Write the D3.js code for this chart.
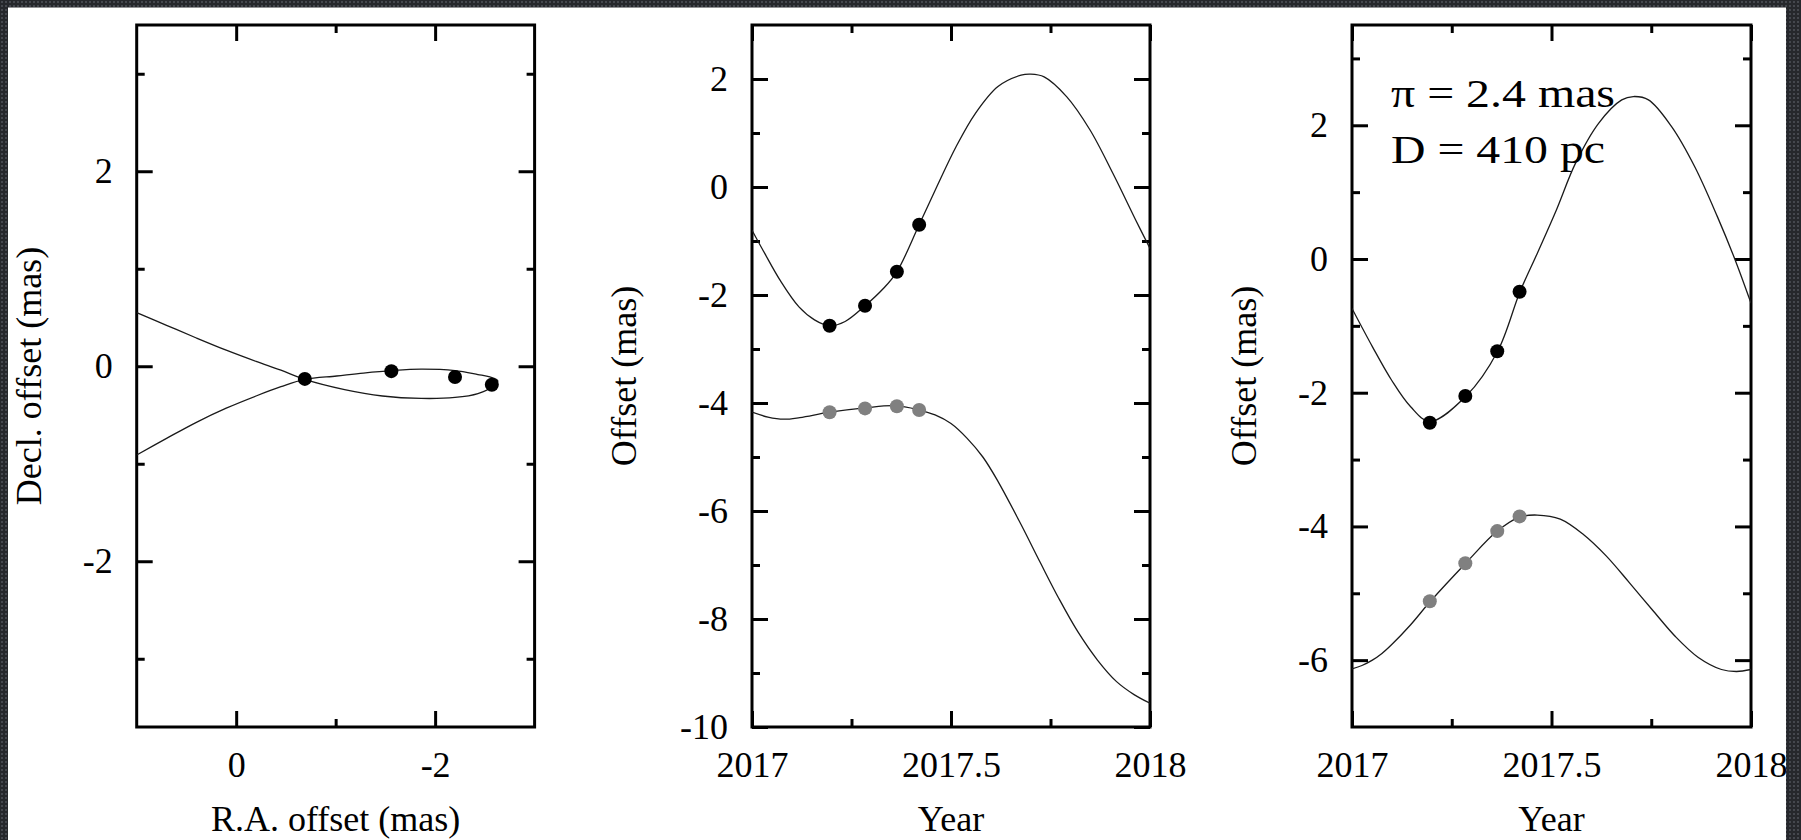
<!DOCTYPE html>
<html>
<head>
<meta charset="utf-8">
<script src="https://cdn.jsdelivr.net/npm/d3@7"></script>
<style>
  html, body { margin: 0; padding: 0; background: #fff; }
  svg { display: block; }
  text { font-family: "Liberation Serif", "Times New Roman", serif; fill: #000; }
</style>
</head>
<body>
<svg id="fig" width="1801" height="840"></svg>
<script>
// ---- observations -------------------------------------------------------
// epochs of the four VLBI observations (decimal year)
const epochs = [2017.195, 2017.284, 2017.364, 2017.420];

// panel a: position on the sky (mas)
const raOffset  = [-2.57, -2.20, -1.56, -0.69];
const decOffset = [-0.19, -0.11, -0.05, -0.13];

// panel b: offsets versus time, parallax + proper motion (Dec shifted by -4 mas)
const raTotal  = [-2.57, -2.20, -1.57, -0.70];
const decTotal = [-4.17, -4.10, -4.06, -4.13];

// panel c: parallax signature only (Dec shifted by -4 mas)
const raParallax  = [-2.45, -2.05, -1.38, -0.49];
const decParallax = [-5.12, -4.55, -4.07, -3.85];

// ---- fitted models, sampled along the curve --------------------------------
// panel a: sky track, listed in order along the path
const trackRA  = [1.00, 0.70, 0.40, 0.10, -0.20, -0.45, -0.69, -1.09, -1.47, -1.86, -2.20, -2.43, -2.59, -2.63, -2.55, -2.43, -2.20, -1.86, -1.56, -1.28, -1.01, -0.69, -0.45, -0.20, 0.10, 0.40, 0.70, 1.00];
const trackDec = [0.55, 0.42, 0.29, 0.165, 0.05, -0.04, -0.135, -0.24, -0.305, -0.33, -0.32, -0.28, -0.20, -0.15, -0.11, -0.085, -0.045, -0.03, -0.045, -0.07, -0.10, -0.135, -0.21, -0.305, -0.43, -0.575, -0.74, -0.91];

// panel b: model years and values
const modelYearB = [2017.000, 2017.032, 2017.070, 2017.118, 2017.157, 2017.195, 2017.234, 2017.284, 2017.330, 2017.364, 2017.420, 2017.464, 2017.513, 2017.561, 2017.618, 2017.676, 2017.700, 2017.734, 2017.791, 2017.849, 2017.907, 2017.964, 2018.000];
const raModelB   = [-0.80, -1.23, -1.72, -2.22, -2.46, -2.57, -2.49, -2.20, -1.88, -1.57, -0.70, 0.00, 0.75, 1.36, 1.86, 2.07, 2.09, 2.04, 1.67, 1.06, 0.25, -0.61, -1.14];
const decYearB   = [2017.000, 2017.040, 2017.080, 2017.120, 2017.195, 2017.284, 2017.360, 2017.420, 2017.460, 2017.500, 2017.540, 2017.580, 2017.618, 2017.676, 2017.724, 2017.771, 2017.819, 2017.868, 2017.916, 2017.960, 2018.000];
const decModelB  = [-4.17, -4.26, -4.30, -4.27, -4.17, -4.09, -4.05, -4.13, -4.22, -4.38, -4.65, -5.00, -5.45, -6.25, -6.95, -7.62, -8.24, -8.76, -9.16, -9.40, -9.56];

// panel c: model years and values
const modelYearC = [2017.000, 2017.051, 2017.099, 2017.147, 2017.195, 2017.286, 2017.365, 2017.421, 2017.464, 2017.512, 2017.560, 2017.618, 2017.676, 2017.705, 2017.743, 2017.801, 2017.859, 2017.916, 2017.960, 2018.000];
const raModelC   = [-0.74, -1.31, -1.81, -2.21, -2.43, -2.05, -1.38, -0.49, 0.08, 0.73, 1.43, 2.03, 2.38, 2.43, 2.38, 1.98, 1.38, 0.63, -0.01, -0.66];
const decYearC   = [2017.000, 2017.025, 2017.051, 2017.075, 2017.099, 2017.147, 2017.195, 2017.285, 2017.364, 2017.420, 2017.464, 2017.522, 2017.580, 2017.637, 2017.695, 2017.753, 2017.811, 2017.868, 2017.926, 2017.964, 2018.000];
const decModelC  = [-6.13, -6.08, -6.00, -5.90, -5.77, -5.47, -5.13, -4.55, -4.07, -3.86, -3.83, -3.89, -4.12, -4.44, -4.84, -5.25, -5.65, -5.96, -6.14, -6.17, -6.14];

// ---- axis ticks -------------------------------------------------------------
const skyRATicks = [0, -2], skyRAMinor = [-1];
const skyDecTicks = [2, 0, -2], skyDecMinor = [3, 1, -1, -3];
const yearTicks = [2017, 2017.5, 2018], yearMinor = [2017.25, 2017.75];
const offsetTicksB = [2, 0, -2, -4, -6, -8, -10], offsetMinorB = [1, -1, -3, -5, -7, -9];
const offsetTicksC = [2, 0, -2, -4, -6], offsetMinorC = [3, 1, -1, -3, -5];

const annotation = ["π = 2.4 mas", "D = 410 pc"];

// ---- layout -----------------------------------------------------------------
const svg = d3.select("#fig");
const plotTop = 25, plotBottom = 727;
const MAJOR = 16, MINOR = 8, PAD = 24, FS = 36;

const panels = [
  {
    id: "a", left: 136.7, right: 534.6,
    x: d3.scaleLinear().domain([1, -3]),
    y: d3.scaleLinear().domain([-3.7, 3.5]),
    xTicks: skyRATicks, xMinor: skyRAMinor, yTicks: skyDecTicks, yMinor: skyDecMinor,
    xTitle: "R.A. offset (mas)", yTitle: "Decl. offset (mas)", yTitleX: 41
  },
  {
    id: "b", left: 752, right: 1150,
    x: d3.scaleLinear().domain([2017, 2018]),
    y: d3.scaleLinear().domain([-10, 3]),
    xTicks: yearTicks, xMinor: yearMinor, yTicks: offsetTicksB, yMinor: offsetMinorB,
    xTitle: "Year", yTitle: "Offset (mas)", yTitleX: 636
  },
  {
    id: "c", left: 1352, right: 1751,
    x: d3.scaleLinear().domain([2017, 2018]),
    y: d3.scaleLinear().domain([-7, 3.5]),
    xTicks: yearTicks, xMinor: yearMinor, yTicks: offsetTicksC, yMinor: offsetMinorC,
    xTitle: "Year", yTitle: "Offset (mas)", yTitleX: 1256
  }
];

const fmt = d => String(d);   // plain hyphen-minus, as in the printed figure

function styleAxis(g) {
  g.select(".domain").remove();
  g.selectAll(".tick line").attr("stroke", "#000").attr("stroke-width", 3);
  g.selectAll(".tick text").attr("font-size", FS).attr("fill", "#000")
    .attr("font-family", '"Liberation Serif", "Times New Roman", serif');
}

const defs = svg.append("defs");

panels.forEach(p => {
  p.x.range([p.left, p.right]);
  p.y.range([plotBottom, plotTop]);
  const w = p.right - p.left, h = plotBottom - plotTop;
  const g = svg.append("g").attr("class", "panel-" + p.id);

  defs.append("clipPath").attr("id", "clip-" + p.id)
    .append("rect").attr("x", p.left).attr("y", plotTop).attr("width", w).attr("height", h);

  // inward ticks on all four sides
  const axes = [
    [d3.axisBottom(p.x), plotBottom, "x", p.xTicks, true],
    [d3.axisTop(p.x), plotTop, "x", p.xTicks, false],
    [d3.axisLeft(p.y), p.left, "y", p.yTicks, true],
    [d3.axisRight(p.y), p.right, "y", p.yTicks, false]
  ];
  axes.forEach(([ax, pos, dir, ticks, labelled]) => {
    const tr = dir === "x" ? `translate(0,${pos})` : `translate(${pos},0)`;
    g.append("g").attr("transform", tr)
      .call(ax.tickValues(ticks).tickSize(-MAJOR).tickPadding(PAD)
        .tickFormat(labelled ? fmt : () => ""))
      .call(styleAxis);
  });
  const minorAxes = [
    [d3.axisBottom(p.x), plotBottom, "x", p.xMinor],
    [d3.axisTop(p.x), plotTop, "x", p.xMinor],
    [d3.axisLeft(p.y), p.left, "y", p.yMinor],
    [d3.axisRight(p.y), p.right, "y", p.yMinor]
  ];
  minorAxes.forEach(([ax, pos, dir, ticks]) => {
    const tr = dir === "x" ? `translate(0,${pos})` : `translate(${pos},0)`;
    g.append("g").attr("transform", tr)
      .call(ax.tickValues(ticks).tickSize(-MINOR).tickFormat(() => ""))
      .call(styleAxis);
  });

  // frame
  g.append("rect").attr("x", p.left).attr("y", plotTop).attr("width", w).attr("height", h)
    .attr("fill", "none").attr("stroke", "#000").attr("stroke-width", 3);

  // axis titles
  g.append("text").attr("x", (p.left + p.right) / 2).attr("y", 831)
    .attr("text-anchor", "middle").attr("font-size", FS).text(p.xTitle);
  g.append("text")
    .attr("transform", `translate(${p.yTitleX},${(plotTop + plotBottom) / 2}) rotate(-90)`)
    .attr("text-anchor", "middle").attr("font-size", FS).text(p.yTitle);

  p.g = g;
  p.plot = g.append("g").attr("clip-path", `url(#clip-${p.id})`);
});

const curveStyle = sel => sel.attr("fill", "none").attr("stroke", "#1a1a1a").attr("stroke-width", 1.3);
const R = 7;

// panel a: sky track
{
  const p = panels[0];
  const line = d3.line().x(d => p.x(d[0])).y(d => p.y(d[1])).curve(d3.curveCatmullRom.alpha(0.5));
  p.plot.append("path").datum(d3.zip(trackRA, trackDec)).attr("d", line).call(curveStyle);
  p.plot.selectAll("circle").data(d3.zip(raOffset, decOffset)).join("circle")
    .attr("cx", d => p.x(d[0])).attr("cy", d => p.y(d[1])).attr("r", R).attr("fill", "#000");
}

// panels b and c: offsets versus time
function timePanel(p, yrA, valA, yrB, valB, ptsA, ptsB) {
  const line = d3.line().x(d => p.x(d[0])).y(d => p.y(d[1])).curve(d3.curveCatmullRom.alpha(0.5));
  p.plot.append("path").datum(d3.zip(yrA, valA)).attr("d", line).call(curveStyle);
  p.plot.append("path").datum(d3.zip(yrB, valB)).attr("d", line).call(curveStyle);
  p.plot.append("g").selectAll("circle").data(d3.zip(epochs, ptsB)).join("circle")
    .attr("cx", d => p.x(d[0])).attr("cy", d => p.y(d[1])).attr("r", R).attr("fill", "#808080");
  p.plot.append("g").selectAll("circle").data(d3.zip(epochs, ptsA)).join("circle")
    .attr("cx", d => p.x(d[0])).attr("cy", d => p.y(d[1])).attr("r", R).attr("fill", "#000");
}
timePanel(panels[1], modelYearB, raModelB, decYearB, decModelB, raTotal, decTotal);
timePanel(panels[2], modelYearC, raModelC, decYearC, decModelC, raParallax, decParallax);

// parallax annotation
panels[2].g.selectAll("text.note").data(annotation).join("text")
  .attr("class", "note")
  .attr("x", 1391).attr("y", (d, i) => 107 + i * 56)
  .attr("font-size", 40)
  .attr("textLength", (d, i) => [224, 214][i])
  .attr("lengthAdjust", "spacingAndGlyphs")
  .text(d => d);

// dark slide border along the top and sides, with a fine speckled texture
const speckle = defs.append("pattern").attr("id", "speckle")
  .attr("patternUnits", "userSpaceOnUse").attr("width", 4).attr("height", 4);
speckle.append("rect").attr("width", 4).attr("height", 4).attr("fill", "#26282c");
speckle.append("rect").attr("x", 1).attr("y", 1).attr("width", 2).attr("height", 2).attr("fill", "#45484e");

const border = svg.append("g").attr("fill", "url(#speckle)");
border.append("rect").attr("x", 0).attr("y", 0).attr("width", 1801).attr("height", 7.5);
border.append("rect").attr("x", 0).attr("y", 0).attr("width", 8).attr("height", 840);
border.append("rect").attr("x", 1786).attr("y", 0).attr("width", 15).attr("height", 840);
</script>
</body>
</html>
